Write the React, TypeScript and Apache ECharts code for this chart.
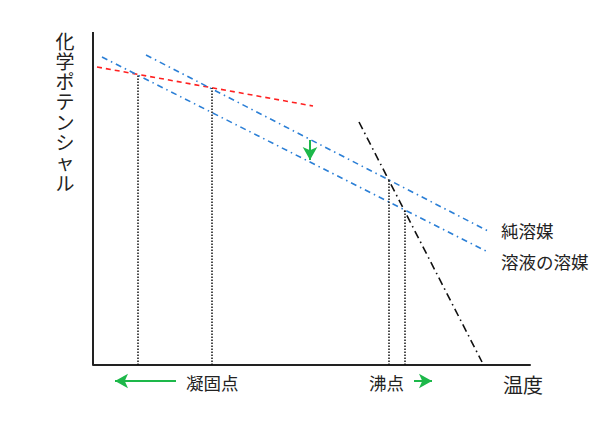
import React, { useEffect, useRef } from "react";
import * as echarts from "echarts";

// Units: temperature (x) and chemical potential (y), arbitrary scale
const liquidLine: [number, number][] = [[4, 298], [220, 259]]; // red dashed (固体)
const pureSolvent: [number, number][] = [[53, 310], [397, 133]];
const solutionSolvent: [number, number][] = [[9, 308], [395, 113]];
const gasLine: [number, number][] = [[266, 243], [389, 3]];
const dropLinesX = [45, 119, 296, 312];
const dropLinesTop = [291, 277, 185, 155];
const downArrow: [number, number][] = [[217, 225], [217, 205]];
const leftArrow: [number, number][] = [[83, -16], [22, -16]];
const rightArrow: [number, number][] = [[321, -16], [339, -16]];
const labels = { yName: "化学ポテンシャル", xName: "温度", freeze: "凝固点", boil: "沸点", pure: "純溶媒", sol: "溶液の溶媒" };

const FONT = "'Noto Sans CJK JP', sans-serif";
const VFONT = "'Liberation Serif', 'Noto Sans CJK JP', sans-serif";
const GREEN = "#1db84a";
const BLUE = "#2b7fd6";

export default function App() {
  const ref = useRef<HTMLDivElement>(null);
  useEffect(() => {
    const chart = echarts.init(ref.current!, null, { renderer: "svg" });
    const line = (data: [number, number][], color: string, type: any, width = 1.6) => ({
      type: "line",
      data,
      symbol: "none",
      silent: true,
      lineStyle: { color, type, width },
    });
    const arrow = (data: [number, number][]) => ({
      type: "line",
      data: [],
      markLine: {
        silent: true,
        animation: false,
        symbol: ["none", "arrow"],
        symbolSize: [11, 13],
        label: { show: false },
        lineStyle: { color: GREEN, type: "solid", width: 2 },
        data: [[{ coord: data[0] }, { coord: data[1] }]],
      },
    });
    const series: any[] = [
      line(liquidLine, "#ff2020", [5, 4], 1.6),
      line(pureSolvent, BLUE, [6, 4, 1.5, 4], 1.6),
      line(solutionSolvent, BLUE, [6, 4, 1.5, 4], 1.6),
      line(gasLine, "#111", [8, 4, 1.5, 4], 1.6),
      ...dropLinesX.map((x, i) => line([[x, 0], [x, dropLinesTop[i]]], "#111", [1.5, 1.5], 1.5)),
      arrow(downArrow),
      arrow(leftArrow),
      arrow(rightArrow),
      line([[0, 0], [0, 333]], "#222", "solid", 2),
    ];
    const yChars = labels.yName.split("").map((ch, i) => ({
      type: "text", x: 65, y: 42 + i * 20.3,
      style: { text: ch, font: `19px ${VFONT}`, lineHeight: 19, fill: "#222", align: "center", verticalAlign: "middle" },
    }));
    chart.setOption({
      animation: false,
      grid: { left: 93, right: 85, top: 32, bottom: 42, containLabel: false },
      xAxis: {
        type: "value", min: 0, max: 437,
        axisLine: { show: true, onZero: true, lineStyle: { color: "#222", width: 2 } },
        axisTick: { show: false }, axisLabel: { show: false }, splitLine: { show: false },
      },
      yAxis: {
        type: "value", min: -25, max: 333,
        axisLine: { show: false },
        axisTick: { show: false }, axisLabel: { show: false }, splitLine: { show: false },
      },
      series,
      graphic: [
        ...yChars,
        { type: "text", x: 503, y: 384, style: { text: labels.xName, font: `20px ${FONT}`, fill: "#222", verticalAlign: "middle" } },
        { type: "text", x: 186, y: 382, style: { text: labels.freeze, font: `17.5px ${FONT}`, fill: "#222", verticalAlign: "middle" } },
        { type: "text", x: 369, y: 382, style: { text: labels.boil, font: `17.5px ${FONT}`, fill: "#222", verticalAlign: "middle" } },
        { type: "text", x: 501, y: 230, style: { text: labels.pure, font: `17.5px ${FONT}`, fill: "#222", verticalAlign: "middle" } },
        { type: "text", x: 501, y: 261, style: { text: labels.sol, font: `17.5px ${FONT}`, fill: "#222", verticalAlign: "middle" } },
      ],
    });
    return () => chart.dispose();
  }, []);
  return <div ref={ref} style={{ position: "fixed", left: 0, top: 0, width: 615, height: 432, background: "#fff" }} />;
}
